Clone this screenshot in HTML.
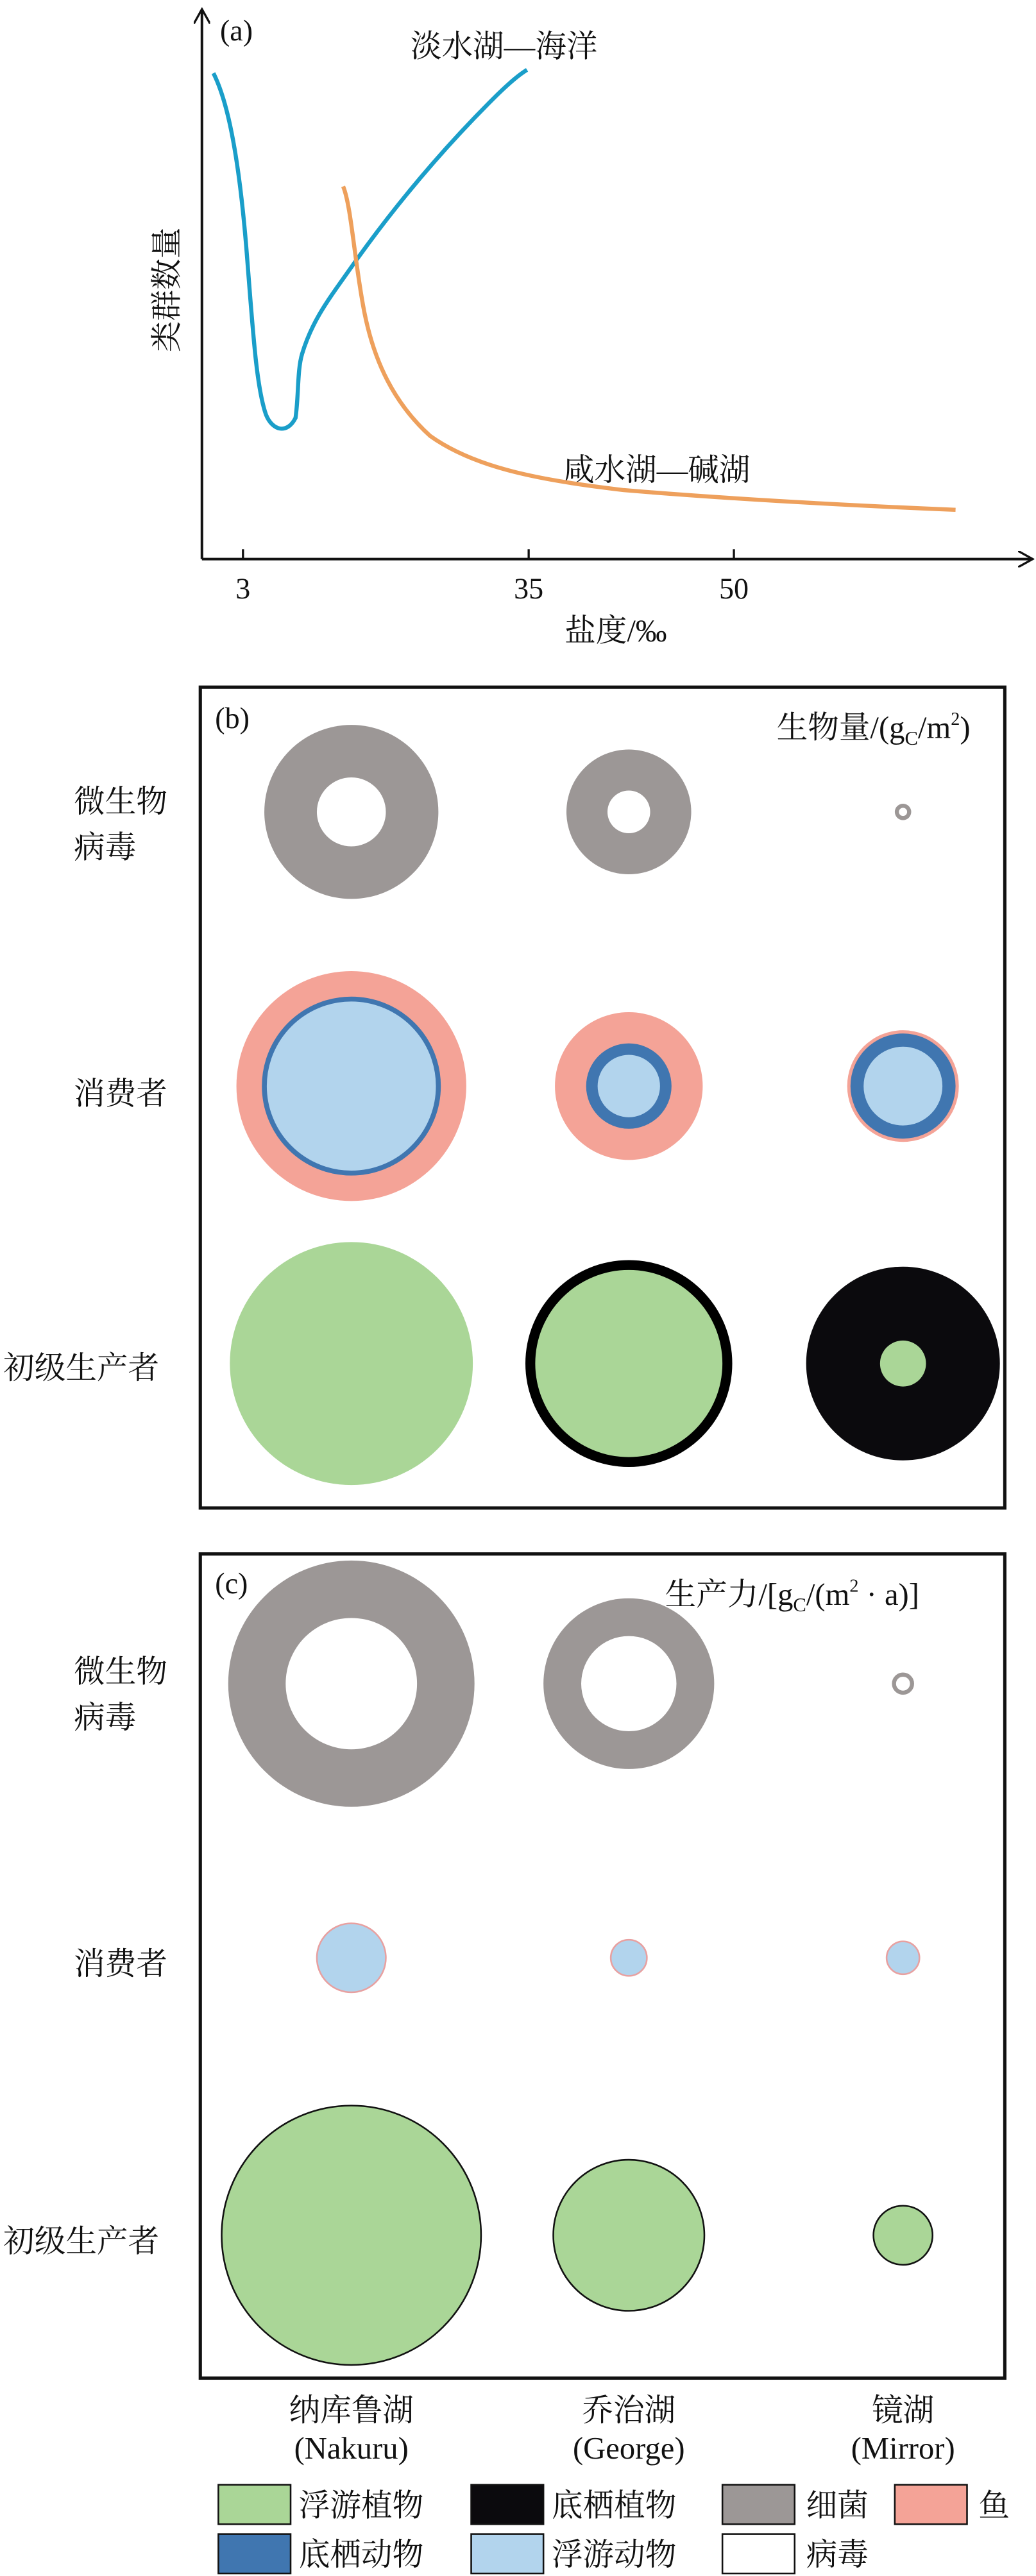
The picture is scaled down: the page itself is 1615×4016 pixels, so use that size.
<!DOCTYPE html>
<html><head><meta charset="utf-8"><style>html,body{margin:0;padding:0;background:#fff}svg{display:block}text{font-family:"Liberation Serif","Noto Serif CJK SC",serif;fill:#111}</style></head>
<body>
<svg width="1615" height="4016" viewBox="0 0 631 1568" xmlns="http://www.w3.org/2000/svg">
<defs><marker id="ar" markerWidth="10" markerHeight="10" refX="8" refY="5" orient="auto" markerUnits="userSpaceOnUse"><path d="M0,0 L9,5 L0,10" fill="none" stroke="#111" stroke-width="1.3"/></marker></defs>
<!-- panel a -->
<line x1="123" y1="340" x2="123" y2="6" stroke="#111" stroke-width="1.6" marker-end="url(#ar)"/>
<line x1="123" y1="340" x2="628" y2="340" stroke="#111" stroke-width="1.6" marker-end="url(#ar)"/>
<line x1="148" y1="340" x2="148" y2="334" stroke="#111" stroke-width="1.3"/>
<line x1="322" y1="340" x2="322" y2="334" stroke="#111" stroke-width="1.3"/>
<line x1="447" y1="340" x2="447" y2="334" stroke="#111" stroke-width="1.3"/>
<text x="148" y="364" font-size="18" text-anchor="middle">3</text>
<text x="322" y="364" font-size="18" text-anchor="middle">35</text>
<text x="447" y="364" font-size="18" text-anchor="middle">50</text>
<text x="375" y="390" font-size="19" text-anchor="middle">盐度/‰</text>
<text transform="translate(108,176) rotate(-90)" font-size="19" text-anchor="middle">类群数量</text>
<text x="134" y="24" font-size="18">(a)</text>
<text x="250" y="34" font-size="19">淡水湖—海洋</text>
<text x="343" y="292" font-size="19">咸水湖—碱湖</text>
<path d="M130,44 C138,60 145,90 150,150 C154,200 156,235 162,252 C166,262 175,264 180,254 C182,240 181,225 184,215 C190,195 200,182 212,165 C240,125 270,90 300,60 C310,50 316,45 321,42" fill="none" stroke="#1a9ec9" stroke-width="2.5"/>
<path d="M209,113 C214,125 216,160 222,190 C228,220 240,245 262,265 C290,285 330,292 380,298 C440,303 510,307 582,310" fill="none" stroke="#eea05c" stroke-width="2.5"/>
<!-- panel b -->
<rect x="122" y="418" width="490" height="500" fill="none" stroke="#111" stroke-width="2"/>
<text x="131" y="443" font-size="18">(b)</text>
<text x="473" y="449" font-size="19">生物量/(g<tspan font-size="12" dy="4">C</tspan><tspan dy="-4">/m</tspan><tspan font-size="11" dy="-8">2</tspan><tspan dy="8">)</tspan></text>
<text x="45" y="494" font-size="19">微生物</text>
<text x="45" y="522" font-size="19">病毒</text>
<text x="45" y="672" font-size="19">消费者</text>
<text x="2" y="839" font-size="19">初级生产者</text>
<circle cx="214" cy="494" r="53" fill="#9c9796"/><circle cx="214" cy="494" r="21" fill="#fff"/>
<circle cx="383" cy="494" r="38" fill="#9c9796"/><circle cx="383" cy="494" r="13" fill="#fff"/>
<circle cx="550" cy="494" r="5" fill="#9c9796"/><circle cx="550" cy="494" r="2.5" fill="#fff"/>
<circle cx="214" cy="661" r="70" fill="#f4a397"/><circle cx="214" cy="661" r="53" fill="#b2d4ed" stroke="#4076b0" stroke-width="3"/>
<circle cx="383" cy="661" r="45" fill="#f4a397"/><circle cx="383" cy="661" r="26" fill="#4076b0"/><circle cx="383" cy="661" r="19" fill="#b2d4ed"/>
<circle cx="550" cy="661" r="34" fill="#f4a397"/><circle cx="550" cy="661" r="32" fill="#4076b0"/><circle cx="550" cy="661" r="24" fill="#b2d4ed"/>
<circle cx="214" cy="830" r="74" fill="#aad697"/>
<circle cx="383" cy="830" r="63" fill="#000"/><circle cx="383" cy="830" r="57" fill="#aad697"/>
<circle cx="550" cy="830" r="59" fill="#0b0a0d"/><circle cx="550" cy="830" r="14" fill="#aad697"/>
<!-- panel c -->
<rect x="122" y="946" width="490" height="502" fill="none" stroke="#111" stroke-width="2"/>
<text x="131" y="970" font-size="18">(c)</text>
<text x="405" y="977" font-size="19">生产力/[g<tspan font-size="12" dy="4">C</tspan><tspan dy="-4">/(m</tspan><tspan font-size="11" dy="-8">2</tspan><tspan dy="8"> · a)]</tspan></text>
<text x="45" y="1024" font-size="19">微生物</text>
<text x="45" y="1052" font-size="19">病毒</text>
<text x="45" y="1202" font-size="19">消费者</text>
<text x="2" y="1371" font-size="19">初级生产者</text>
<circle cx="214" cy="1025" r="75" fill="#9c9796"/><circle cx="214" cy="1025" r="40" fill="#fff"/>
<circle cx="383" cy="1025" r="52" fill="#9c9796"/><circle cx="383" cy="1025" r="29" fill="#fff"/>
<circle cx="550" cy="1025" r="5.5" fill="#fff" stroke="#9c9796" stroke-width="2.5"/>
<circle cx="214" cy="1192" r="21" fill="#b2d4ed" stroke="#e8a0a0" stroke-width="1"/>
<circle cx="383" cy="1192" r="11" fill="#b2d4ed" stroke="#e8a0a0" stroke-width="1"/>
<circle cx="550" cy="1192" r="10" fill="#b2d4ed" stroke="#e8a0a0" stroke-width="1"/>
<circle cx="214" cy="1361" r="79" fill="#aad697" stroke="#111" stroke-width="1"/>
<circle cx="383" cy="1361" r="46" fill="#aad697" stroke="#111" stroke-width="1"/>
<circle cx="550" cy="1361" r="18" fill="#aad697" stroke="#111" stroke-width="1"/>
<!-- column labels -->
<g font-size="19" text-anchor="middle">
<text x="214" y="1474">纳库鲁湖</text><text x="214" y="1497">(Nakuru)</text>
<text x="383" y="1474">乔治湖</text><text x="383" y="1497">(George)</text>
<text x="550" y="1474">镜湖</text><text x="550" y="1497">(Mirror)</text>
</g>
<!-- legend -->
<g stroke="#111" stroke-width="1">
<rect x="133" y="1513" width="44" height="24" fill="#aad697"/>
<rect x="287" y="1513" width="44" height="24" fill="#0b0a0d"/>
<rect x="440" y="1513" width="44" height="24" fill="#9c9796"/>
<rect x="545" y="1513" width="44" height="24" fill="#f4a397"/>
<rect x="133" y="1543" width="44" height="24" fill="#4076b0"/>
<rect x="287" y="1543" width="44" height="24" fill="#b2d4ed"/>
<rect x="440" y="1543" width="44" height="24" fill="#fff"/>
</g>
<g font-size="19">
<text x="182" y="1532">浮游植物</text><text x="336" y="1532">底栖植物</text><text x="491" y="1532">细菌</text><text x="596" y="1532">鱼</text>
<text x="182" y="1562">底栖动物</text><text x="336" y="1562">浮游动物</text><text x="491" y="1562">病毒</text>
</g>
</svg>
</body></html>
